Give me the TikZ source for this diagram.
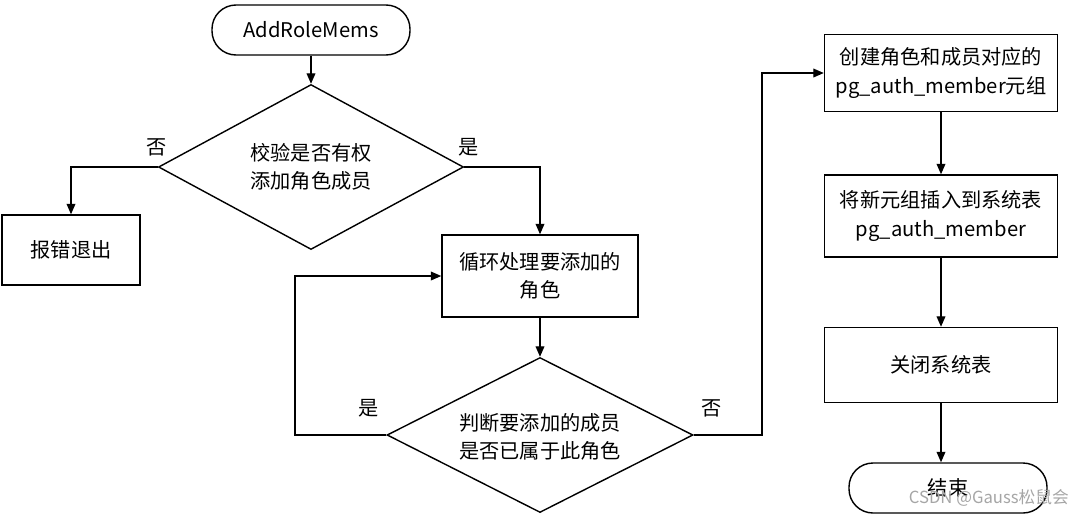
\documentclass[tikz,border=0pt]{standalone}
\usepackage{fontspec}
\setmainfont{Noto Sans CJK SC}
\usetikzlibrary{shapes.geometric,arrows.meta}
\begin{document}
\begin{tikzpicture}[x=0.02cm,y=-0.02cm,
  every node/.style={font=\fontsize{11.5}{16}\selectfont, align=center},
  box/.style={draw, thick, minimum width=#1*0.02cm},
  term/.style={draw, thick, rounded corners=24*0.02cm, minimum width=198*0.02cm, minimum height=50*0.02cm},
  dia/.style={draw, thick, diamond, aspect=1.85, inner sep=0pt},
  arr/.style={thick,-{Triangle[length=6pt,width=5pt]}},
  lab/.style={font=\fontsize{11.5}{14}\selectfont}]
\useasboundingbox (0,0) rectangle (1075,518);
\node[term] (start) at (311,30) {AddRoleMems};
\node[dia, minimum width=305*0.02cm, minimum height=165*0.02cm] (d1) at (311,167) {};
\node at (311,167) {校验是否有权\\添加角色成员};
\node[box=138, minimum height=70*0.02cm] (err) at (71,250) {报错退出};
\node[box=196, minimum height=82*0.02cm] (loop) at (540,276) {循环处理要添加的\\角色};
\node[dia, minimum width=306*0.02cm, minimum height=155*0.02cm] (d2) at (540,435) {};
\node at (540,437) {判断要添加的成员\\是否已属于此角色};
\node[box=233, minimum height=77*0.02cm] (c) at (941,73) {创建角色和成员对应的\\pg\_auth\_member元组};
\node[box=233, minimum height=82*0.02cm] (ins) at (941,216) {将新元组插入到系统表\\pg\_auth\_member};
\node[box=233, minimum height=75*0.02cm] (cl) at (941,365) {关闭系统表};
\node[term] (end) at (948,488) {结束};
\coordinate (a1) at (71,167);
\coordinate (a2) at (540,167);
\coordinate (a3) at (295,435);
\coordinate (a4) at (295,276);
\coordinate (a5) at (762,435);
\coordinate (a6) at (762,73);
\draw[arr] (start) -- (d1.north);
\draw[arr] (d1.west) -- (a1) -- (err.north);
\draw[arr] (d1.east) -- (a2) -- (loop.north);
\draw[arr] (loop) -- (d2.north);
\draw[arr] (d2.west) -- (a3) -- (a4) -- (loop.west);
\draw[arr] (d2.east) -- (a5) -- (a6) -- (c.west);
\draw[arr] (c) -- (ins);
\draw[arr] (ins) -- (cl);
\draw[arr] (cl) -- (cl|-end.north);
\node[lab] at (157,147) {否};
\node[lab] at (469,147) {是};
\node[lab] at (369,408) {是};
\node[lab] at (712,408) {否};
\node[text=gray!70, font=\fontsize{9.5}{12}\selectfont, anchor=east] (wm) at (1075,498) {CSDN @Gauss松鼠会};
\end{tikzpicture}
\end{document}
